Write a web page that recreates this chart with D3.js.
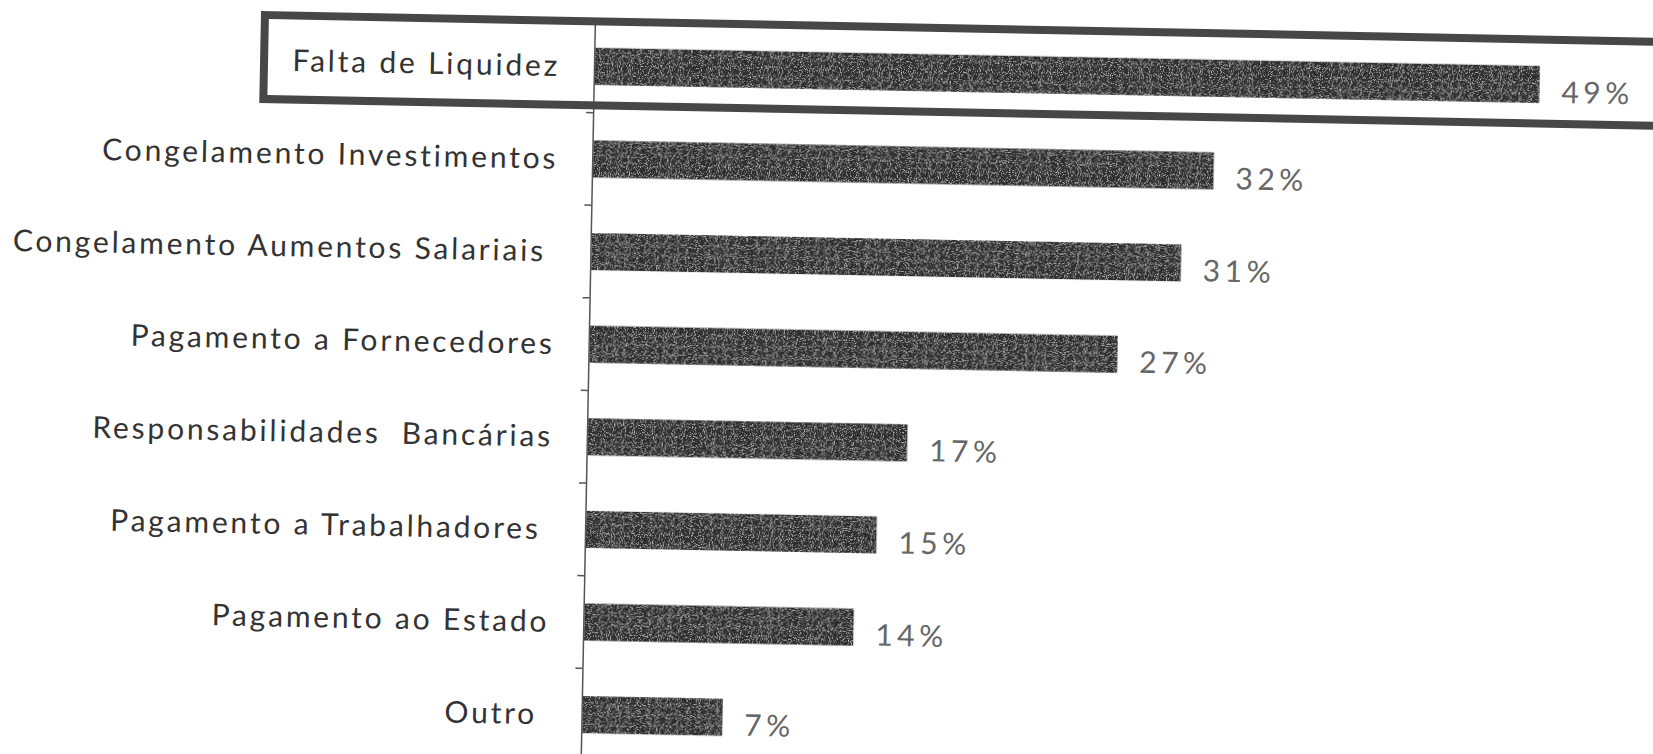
<!DOCTYPE html>
<html>
<head>
<meta charset="utf-8">
<script src="https://cdn.jsdelivr.net/npm/d3@7/dist/d3.min.js"></script>
<style>
  html, body { margin: 0; padding: 0; background: #fff; }
  svg { display: block; }
</style>
</head>
<body>
<div id="chart"></div>
<script>
// data (bar lengths; labels are the printed, rounded values)
const categories = [
  "Falta de Liquidez",
  "Congelamento Investimentos",
  "Congelamento Aumentos Salariais ",
  "Pagamento a Fornecedores",
  "Responsabilidades  Bancárias",
  "Pagamento a Trabalhadores ",
  "Pagamento ao Estado",
  "Outro "
]
const values = [49.0, 32.2, 30.6, 27.4, 16.6, 15.1, 14.0, 7.3]
const valueLabels = ["49%", "32%", "31%", "27%", "17%", "15%", "14%", "7%"]
const highlighted = "Falta de Liquidez"
const xDomain = [0, 50]

const width = 1653
const height = 754
const axisX = 588
const tilt = 1.1 // the scan is slightly turned clockwise

const fontFamily = "Lato, 'Open Sans', sans-serif"

function draw() {
  const svg = d3.select("#chart")
    .append("svg")
    .attr("width", width)
    .attr("height", height)

  // light speckle so the dark fills look like the photocopy
  const filter = svg.append("defs").append("filter")
    .attr("id", "grain")
    .attr("x", 0).attr("y", 0).attr("width", 1).attr("height", 1)
  filter.append("feTurbulence")
    .attr("type", "fractalNoise")
    .attr("baseFrequency", 0.9)
    .attr("numOctaves", 1)
    .attr("seed", 4)
    .attr("result", "noise")
  filter.append("feColorMatrix")
    .attr("in", "noise")
    .attr("type", "matrix")
    .attr("values", "0 0 0 0 0.65  0 0 0 0 0.65  0 0 0 0 0.65  0 0 0 -4 1.85")
    .attr("result", "specks")
  filter.append("feComposite")
    .attr("in", "specks")
    .attr("in2", "SourceGraphic")
    .attr("operator", "in")
    .attr("result", "clipped")
  const merge = filter.append("feMerge")
  merge.append("feMergeNode").attr("in", "SourceGraphic")
  merge.append("feMergeNode").attr("in", "clipped")

  svg.append("rect")
    .attr("width", width)
    .attr("height", height)
    .attr("fill", "#fff")

  const g = svg.append("g")
    .attr("transform", `rotate(${tilt}, 590, 380)`)

  const x = d3.scaleLinear()
    .domain(xDomain)
    .range([axisX, axisX + 965])

  const y = d3.scaleBand()
    .domain(categories)
    .range([20, 761])
    .paddingInner(0.6)
    .paddingOuter(0.3)

  const bw = y.bandwidth()

  // --- Bars ---
  g.selectAll("rect.bar")
    .data(categories)
    .join("rect")
    .attr("class", "bar")
    .attr("x", x(0) + 1)
    .attr("y", d => y(d))
    .attr("width", (d, i) => x(values[i]) - x(0) - 1)
    .attr("height", bw)
    .attr("fill", "#2e2e2e")
    .attr("filter", "url(#grain)")

  // --- Value labels ---
  g.selectAll("text.value")
    .data(categories)
    .join("text")
    .attr("class", "value")
    .attr("x", (d, i) => x(values[i]) + 22)
    .attr("y", d => y(d) + bw / 2 + 18)
    .attr("fill", "#666")
    .attr("font-family", fontFamily)
    .attr("font-size", "30px")
    .attr("letter-spacing", "4.5px")
    .text((d, i) => valueLabels[i])

  // --- Category axis (line + separator ticks) ---
  const axis = d3.axisLeft(y).tickSize(0).tickSizeOuter(0).tickFormat("")
  g.append("g")
    .attr("transform", `translate(${axisX},0)`)
    .call(axis)
    .select(".domain")
    .attr("stroke", "#555")
    .attr("stroke-width", 1.5)

  const gap = y.step() * y.paddingInner() / 2
  g.selectAll("line.sep")
    .data(categories.slice(1))
    .join("line")
    .attr("class", "sep")
    .attr("x1", axisX - 7)
    .attr("x2", axisX)
    .attr("y1", d => y(d) - gap)
    .attr("y2", d => y(d) - gap)
    .attr("stroke", "#555")
    .attr("stroke-width", 1.5)

  // --- Category labels ---
  g.selectAll("text.cat")
    .data(categories)
    .join("text")
    .attr("class", "cat")
    .attr("x", axisX - 34)
    .attr("y", d => y(d) + bw / 2 + 10.5)
    .attr("text-anchor", "end")
    .attr("fill", "#333")
    .attr("font-family", fontFamily)
    .attr("font-size", "30px")
    .attr("letter-spacing", "2.8px")
    .style("white-space", "pre")
    .text(d => d)

  // --- Highlight frame round the first row ---
  const cy = y(highlighted) + bw / 2
  g.append("rect")
    .attr("x", 258)
    .attr("y", cy - 45)
    .attr("width", 1500)
    .attr("height", 84)
    .attr("fill", "none")
    .attr("stroke", "#474747")
    .attr("stroke-width", 8)
}

draw()
</script>
</body>
</html>
